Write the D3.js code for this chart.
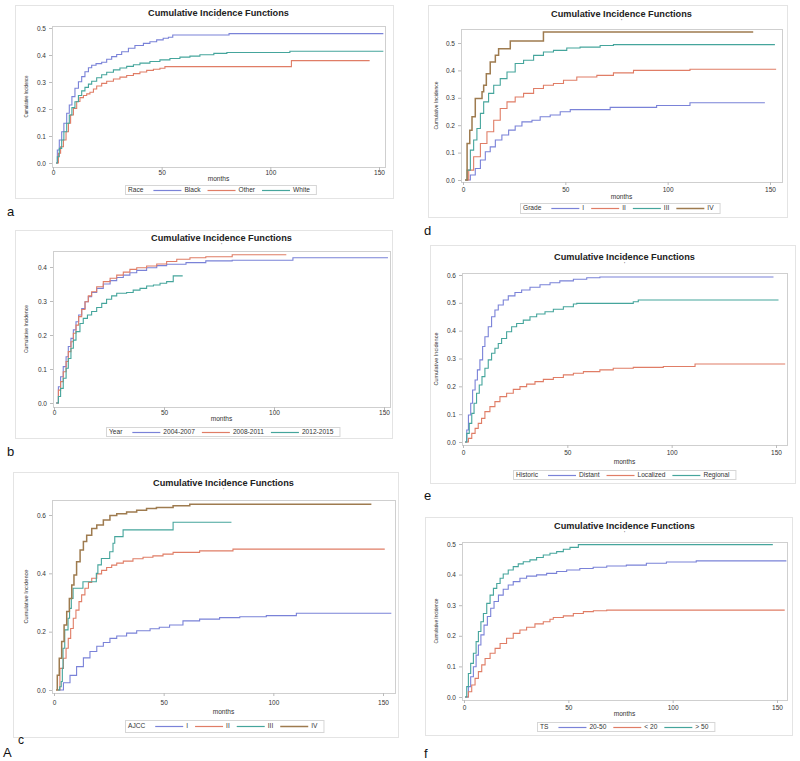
<!DOCTYPE html>
<html><head><meta charset="utf-8">
<script src="https://cdn.jsdelivr.net/npm/d3@7"></script>
<style>body{margin:0;background:#fff} svg{display:block} text{font-family:"Liberation Sans",Arial,sans-serif}</style>
</head><body><svg id="c" width="800" height="761"></svg><script>
// ---------- data: [months, cumulative incidence] step points ----------
const xTickValues = [0, 50, 100, 150];

const raceBlack = [[1.4,0],[2,0.048],[2.9,0.085],[4,0.116],[5,0.147],[6.3,0.184],[7.5,0.215],[8.7,0.246],[10.1,0.277],[11.7,0.301],[13.2,0.32],[14.7,0.338],[16.3,0.353],[17.8,0.362],[19.8,0.368],[22.4,0.373],[24.7,0.384],[27,0.394],[29.3,0.402],[31.6,0.412],[34.7,0.425],[37.7,0.435],[41.6,0.443],[44.6,0.449],[47.7,0.456],[50.7,0.462],[53.1,0.466],[55.1,0.474],[81,0.479],[152,0.479]];
const raceOther = [[1.4,0],[2.5,0.036],[3.5,0.06],[4.8,0.085],[6,0.116],[7.1,0.147],[8.1,0.178],[9.4,0.202],[10.9,0.228],[12.4,0.242],[14,0.25],[15.5,0.256],[17,0.262],[18.6,0.274],[20.1,0.285],[22.4,0.295],[24.7,0.303],[27.8,0.311],[30.8,0.318],[33.9,0.324],[37,0.331],[40,0.337],[43.1,0.343],[46.2,0.347],[49.2,0.351],[51.5,0.357],[109.7,0.379],[145.7,0.379]];
const raceWhite = [[1.4,0],[2,0.023],[2.9,0.054],[4,0.085],[5,0.116],[6.3,0.147],[7.5,0.178],[8.7,0.205],[10.1,0.227],[11.7,0.25],[13.2,0.267],[14.7,0.28],[16.3,0.292],[17.8,0.303],[20.1,0.316],[22.4,0.327],[24.7,0.336],[27.8,0.345],[30.8,0.352],[33.9,0.358],[37,0.364],[40,0.37],[44.6,0.376],[49.2,0.382],[53.8,0.387],[58.4,0.392],[63,0.396],[67.6,0.401],[74,0.406],[80,0.409],[109,0.414],[152,0.414]];

const year0407 = [[1,0],[2,0.048],[3,0.077],[4.2,0.107],[5.5,0.136],[6.5,0.166],[7.7,0.19],[8.8,0.215],[10,0.239],[11.2,0.259],[12.6,0.278],[14.1,0.298],[15.6,0.313],[17.1,0.325],[19.4,0.337],[22.4,0.35],[25.5,0.36],[28.5,0.369],[31.5,0.376],[34.5,0.383],[37.6,0.39],[42.1,0.398],[46.7,0.404],[51.2,0.408],[60,0.413],[69,0.418],[81,0.42],[108.6,0.427],[151.8,0.427]];
const year0811 = [[1,0],[2,0.038],[3,0.063],[4.2,0.092],[5.5,0.122],[6.5,0.151],[7.7,0.18],[8.8,0.205],[10,0.229],[11.2,0.254],[12.6,0.275],[14.1,0.298],[15.6,0.315],[17.1,0.327],[19.4,0.342],[22.4,0.357],[25.5,0.367],[28.5,0.376],[31.5,0.385],[34.5,0.393],[37.6,0.398],[42.1,0.403],[46.7,0.409],[51.2,0.416],[55.8,0.423],[61.8,0.427],[69,0.43],[81,0.436],[105.6,0.436]];
const year1215 = [[1,0],[2,0.019],[3,0.043],[4.2,0.073],[5.5,0.102],[6.5,0.131],[7.7,0.161],[8.8,0.185],[10,0.21],[11.8,0.234],[13.3,0.249],[15.2,0.259],[17.1,0.269],[19.4,0.281],[21.7,0.293],[23.9,0.305],[26.2,0.315],[28.5,0.323],[33,0.325],[36,0.332],[39.1,0.337],[42.1,0.344],[45.2,0.347],[48.2,0.352],[51.2,0.357],[54.2,0.374],[58.5,0.374]];

const ajcc1 = [[1.8,0],[4.3,0.025],[7.3,0.05],[10.3,0.08],[13.4,0.11],[16.4,0.132],[19.5,0.15],[22.5,0.163],[25.5,0.177],[28.6,0.185],[33.1,0.195],[37.7,0.203],[43.8,0.21],[48,0.215],[52.7,0.223],[58.8,0.237],[66.4,0.243],[75.5,0.248],[84.7,0.251],[96.8,0.255],[110.5,0.263],[153.8,0.263]];
const ajcc2 = [[1.8,0],[2.7,0.074],[4.3,0.109],[5.5,0.143],[6.5,0.177],[7.6,0.211],[8.8,0.246],[10,0.274],[11.4,0.303],[12.6,0.326],[14.1,0.349],[15.7,0.369],[17.2,0.383],[19.5,0.398],[21.7,0.41],[24,0.42],[26.3,0.428],[28.6,0.435],[31.6,0.442],[36,0.45],[40.6,0.455],[45.1,0.46],[49.7,0.466],[54.3,0.472],[66.4,0.477],[81.6,0.483],[150.8,0.483]];
const ajcc3 = [[1.8,0],[2.6,0.011],[3.3,0.029],[3.8,0.074],[4.1,0.143],[4.9,0.206],[6.4,0.246],[7.1,0.28],[7.9,0.314],[8.7,0.349],[13.2,0.371],[19.3,0.4],[20,0.429],[21.6,0.451],[25.4,0.474],[26.9,0.503],[27.7,0.526],[31.5,0.549],[54.3,0.575],[80.9,0.575]];
const ajcc4 = [[0.9,0],[1.5,0.051],[2.4,0.109],[3.5,0.166],[4.6,0.223],[5.8,0.269],[7,0.314],[8.1,0.36],[9.1,0.394],[10.3,0.44],[11.9,0.48],[13.4,0.509],[14.9,0.531],[17.2,0.554],[19.5,0.566],[22.5,0.583],[25.5,0.598],[28.6,0.604],[33.1,0.61],[37.7,0.616],[42.2,0.622],[46.7,0.626],[54.3,0.632],[61.9,0.637],[144.7,0.637]];

const grade1 = [[1.1,0],[3.6,0.018],[6,0.042],[8.5,0.073],[10.9,0.103],[13.3,0.121],[15.8,0.146],[19,0.164],[22.3,0.182],[25.5,0.197],[28.8,0.212],[33.7,0.218],[37.7,0.231],[42.6,0.237],[47.5,0.249],[52.4,0.257],[71.9,0.265],[94.6,0.272],[110.9,0.282],[147.5,0.282]];
const grade2 = [[1.1,0],[2.8,0.036],[5.2,0.085],[8.5,0.133],[11.7,0.176],[15,0.218],[18.2,0.261],[21.5,0.285],[25.5,0.303],[29.6,0.316],[34.5,0.334],[39.3,0.346],[44.2,0.352],[49.1,0.364],[55.6,0.376],[65.4,0.382],[73.5,0.391],[83.3,0.4],[110.9,0.404],[153,0.404]];
const grade3 = [[1.1,0],[2,0.036],[3.6,0.109],[5.2,0.146],[6.8,0.188],[8.5,0.243],[10.1,0.285],[12.5,0.316],[15,0.346],[18.2,0.37],[21.5,0.394],[25.5,0.425],[29.6,0.437],[34.5,0.455],[39.3,0.467],[44.2,0.473],[50.7,0.482],[57.2,0.485],[67,0.491],[73.5,0.494],[152.4,0.494]];
const grade4 = [[1.1,0],[2,0.133],[3.3,0.182],[4.4,0.231],[6,0.297],[9.3,0.322],[10.1,0.346],[11.4,0.388],[13.3,0.431],[15.8,0.455],[17.4,0.479],[23.1,0.507],[39.3,0.54],[141.8,0.54]];

const histDistant = [[1,0],[1.8,0.043],[2.6,0.097],[3.7,0.139],[4.6,0.187],[5.8,0.223],[6.9,0.259],[8.1,0.295],[9.4,0.343],[10.5,0.378],[12.1,0.414],[13.7,0.45],[15.3,0.474],[16.9,0.492],[19.3,0.51],[21.7,0.525],[24.9,0.537],[28.1,0.546],[32.1,0.556],[36.9,0.565],[41.7,0.572],[46.4,0.579],[52.9,0.585],[59.3,0.59],[65.6,0.593],[148.8,0.593]];
const histLocalized = [[1,0],[2.6,0.013],[4.2,0.031],[5.8,0.049],[7.3,0.067],[8.9,0.085],[10.5,0.109],[12.9,0.127],[15.3,0.145],[17.7,0.163],[20.9,0.175],[24.1,0.189],[27.3,0.199],[30.5,0.208],[34.5,0.217],[38.5,0.225],[43.3,0.232],[48.1,0.241],[52.9,0.247],[57.7,0.253],[65.6,0.259],[72,0.265],[81.6,0.268],[96,0.271],[111.2,0.28],[154.4,0.28]];
const histRegional = [[1,0],[1.8,0.031],[3,0.067],[4.2,0.103],[5.3,0.139],[6.5,0.175],[7.8,0.205],[9.1,0.235],[10.5,0.265],[12.1,0.295],[13.7,0.319],[15.3,0.337],[16.9,0.354],[18.5,0.372],[20.9,0.396],[23.3,0.414],[25.7,0.426],[28.9,0.438],[32.1,0.45],[35.3,0.46],[39.3,0.468],[43.3,0.477],[48.1,0.486],[52.9,0.496],[54.5,0.498],[81.6,0.504],[84,0.51],[151.2,0.51]];

const ts2050 = [[0.5,0],[2.1,0.034],[3.2,0.066],[4.5,0.099],[5.8,0.137],[6.9,0.17],[8.1,0.203],[9.6,0.235],[11.2,0.263],[12.8,0.29],[14.4,0.312],[16.5,0.333],[18.8,0.352],[21.2,0.366],[23.6,0.377],[26.8,0.388],[30,0.395],[34.8,0.399],[39.6,0.404],[44.4,0.41],[49.2,0.415],[55.5,0.42],[61.9,0.424],[68.4,0.428],[77.8,0.431],[87.4,0.437],[97,0.441],[111.3,0.445],[154.5,0.445]];
const tsLt20 = [[0.5,0],[2.1,0.017],[3.7,0.039],[5.3,0.061],[6.9,0.083],[8.5,0.105],[10.1,0.126],[12.5,0.143],[14.9,0.159],[17.3,0.175],[20.4,0.192],[23.6,0.208],[26.8,0.219],[30,0.228],[34,0.239],[38,0.246],[41.2,0.254],[42.8,0.26],[47.6,0.265],[52.4,0.273],[57.2,0.279],[62,0.282],[68.4,0.284],[153.7,0.284]];
const tsGt50 = [[0.5,0],[1.3,0.034],[2.1,0.077],[3.2,0.11],[4.5,0.143],[5.8,0.181],[6.9,0.214],[8.1,0.246],[9.3,0.273],[10.9,0.306],[12.5,0.333],[14.1,0.355],[15.7,0.371],[17.3,0.388],[18.8,0.402],[21.2,0.415],[23.6,0.426],[26,0.435],[28.4,0.442],[31.6,0.448],[34.8,0.456],[38,0.464],[41.2,0.47],[44.4,0.475],[47.6,0.483],[50.8,0.489],[54.8,0.498],[148,0.498]];

// ---------- styling / layout ----------
const C = {blue:"#7a82d8", red:"#e07d66", teal:"#45a59c", brown:"#9e7b4f"};
const T5 = [0,0.1,0.2,0.3,0.4,0.5];
const panels = [
 {legendTitle:"Race", series:[["Black",raceBlack,C.blue],["Other",raceOther,C.red],["White",raceWhite,C.teal]],
  outer:[15,5,393,198], plot:[52,26,385,167], x0:53, x150:379, y0:163, yTopV:0.5, yTopPx:28, yTicks:T5,
  titleY:16, tickY:173, xlabY:181, legY:[185,194], legCx:220, ylabX:26, ylabLen:42, label:["a",7,216]},
 {legendTitle:"Year", series:[["2004-2007",year0407,C.blue],["2008-2011",year0811,C.red],["2012-2015",year1215,C.teal]],
  outer:[15,230,392,438], plot:[53,251,390,407], x0:54, x150:384, y0:403, yTopV:0.4, yTopPx:267, yTicks:[0,0.1,0.2,0.3,0.4],
  titleY:241, tickY:413, xlabY:421, legY:[427,436], legCx:223, ylabX:26, ylabLen:48, label:["b",7,456]},
 {legendTitle:"AJCC", series:[["I",ajcc1,C.blue],["II",ajcc2,C.red],["III",ajcc3,C.teal],["IV",ajcc4,C.brown]],
  outer:[13,472,398,737], plot:[52,500,395,693], x0:54, x150:383, y0:690, yTopV:0.6, yTopPx:515, yTicks:[0,0.2,0.4,0.6],
  titleY:486, tickY:703, xlabY:714, legY:[720,732], legCx:224, ylabX:26, ylabLen:54, label:null},
 {legendTitle:"Grade", series:[["I",grade1,C.blue],["II",grade2,C.red],["III",grade3,C.teal],["IV",grade4,C.brown]],
  outer:[428,5,787,217], plot:[461,29,782,182], x0:463, x150:770, y0:180, yTopV:0.5, yTopPx:43, yTicks:T5,
  titleY:17, tickY:190, xlabY:199, legY:[203,213], legCx:620, ylabX:436, ylabLen:48, label:["d",424,235]},
 {legendTitle:"Historic", series:[["Distant",histDistant,C.blue],["Localized",histLocalized,C.red],["Regional",histRegional,C.teal]],
  outer:[430,245,795,483], plot:[462,273,787,445], x0:463, x150:776, y0:442, yTopV:0.6, yTopPx:275, yTicks:[0,0.1,0.2,0.3,0.4,0.5,0.6],
  titleY:260, tickY:453, xlabY:464, legY:[470,479], legCx:624, ylabX:436, ylabLen:53, label:["e",424,500]},
 {legendTitle:"TS", series:[["20-50",ts2050,C.blue],["< 20",tsLt20,C.red],["> 50",tsGt50,C.teal]],
  outer:[425,517,792,735], plot:[462,542,787,700], x0:464, x150:777, y0:697, yTopV:0.5, yTopPx:544, yTicks:T5,
  titleY:529, tickY:708, xlabY:716, legY:[722,731], legCx:626, ylabX:436, ylabLen:45, label:["f",424,758]}
];

const svg = d3.select("#c");
const fmt = d3.format(".1f");

panels.forEach(p => {
  const g = svg.append("g");
  const [ox0,oy0,ox1,oy1] = p.outer;
  g.append("rect").attr("x",ox0+0.5).attr("y",oy0+0.5).attr("width",ox1-ox0).attr("height",oy1-oy0)
    .attr("fill","#fff").attr("stroke","#e4e4e4").attr("stroke-width",1);
  const [L,Tp,R,B] = p.plot;
  const x = d3.scaleLinear().domain([0,150]).range([p.x0,p.x150]);
  const y = d3.scaleLinear().domain([0,p.yTopV]).range([p.y0,p.yTopPx]);
  const cx = (L+R)/2;
  g.append("text").attr("x",cx).attr("y",p.titleY).attr("text-anchor","middle")
    .attr("font-size",9.2).attr("font-weight","bold").attr("fill","#222").text("Cumulative Incidence Functions");
  g.append("text").attr("x",cx).attr("y",p.titleY+6).attr("text-anchor","middle")
    .attr("font-size",6).attr("fill","#444").text("'");
  g.append("rect").attr("x",L+0.5).attr("y",Tp+0.5).attr("width",R-L).attr("height",B-Tp)
    .attr("fill","none").attr("stroke","#cfcfcf").attr("stroke-width",1);
  const ya = g.append("g").attr("transform",`translate(${L},0)`)
    .call(d3.axisLeft(y).tickValues(p.yTicks).tickFormat(fmt).tickSize(3).tickPadding(3));
  const xa = g.append("g").attr("transform",`translate(0,${B})`)
    .call(d3.axisBottom(x).tickValues(xTickValues).tickSize(3).tickPadding(2));
  [ya,xa].forEach(a => {
    a.select(".domain").remove();
    a.selectAll("line").attr("stroke","#bbb");
    a.selectAll("text").attr("font-size",6.5).attr("fill","#333").attr("font-family","Liberation Sans, Arial, sans-serif");
  });
  xa.selectAll("text").attr("dy",null).attr("y",p.tickY-B).attr("dominant-baseline","middle");
  g.append("text").attr("x",cx).attr("y",p.xlabY).attr("text-anchor","middle")
    .attr("font-size",6.6).attr("fill","#333").text("months");
  g.append("text").attr("transform",`translate(${p.ylabX},${(Tp+B)/2}) rotate(-90)`)
    .attr("text-anchor","middle").attr("dominant-baseline","middle")
    .attr("font-size",6).attr("fill","#333").attr("textLength",p.ylabLen).attr("lengthAdjust","spacingAndGlyphs")
    .text("Cumulative Incidence");
  const line = d3.line().curve(d3.curveStepAfter).x(d=>x(d[0])).y(d=>y(d[1]));
  p.series.forEach(s => {
    g.append("path").attr("d",line(s[1])).attr("fill","none").attr("stroke",s[2])
      .attr("stroke-width", s[2]===C.brown ? 1.5 : 1.1);
  });
  // legend
  const lg = g.append("g");
  const [ly0,ly1] = p.legY, lcy = Math.round((ly0+ly1)/2)+0.5;
  const box = lg.append("rect").attr("y",ly0+0.5).attr("height",ly1-ly0).attr("fill","#fff").attr("stroke","#d6d6d6");
  let cur = 3;
  const tt = lg.append("text").attr("x",cur).attr("y",lcy).attr("dominant-baseline","middle")
    .attr("font-size",6.6).attr("fill","#333").text(p.legendTitle);
  cur += tt.node().getComputedTextLength() + 10;
  p.series.forEach(s => {
    lg.append("line").attr("x1",cur).attr("x2",cur+28).attr("y1",lcy).attr("y2",lcy)
      .attr("stroke",s[2]).attr("stroke-width", s[2]===C.brown ? 1.5 : 1.2);
    cur += 31;
    const t = lg.append("text").attr("x",cur).attr("y",lcy).attr("dominant-baseline","middle")
      .attr("font-size",6.6).attr("fill","#333").text(s[0]);
    cur += t.node().getComputedTextLength() + 7;
  });
  const w = cur - 4 + 3;
  box.attr("x",0.5).attr("width",w);
  lg.attr("transform",`translate(${Math.round(p.legCx - w/2)},0)`);
  if (p.label) {
    svg.append("text").attr("x",p.label[1]).attr("y",p.label[2]).attr("font-size",13)
      .attr("fill","#111").text(p.label[0]);
  }
});
svg.append("text").attr("x",3).attr("y",757).attr("font-size",13).attr("fill","#111").text("A");
svg.append("text").attr("x",18).attr("y",744).attr("font-size",12).attr("fill","#111").text("c");
</script></body></html>
